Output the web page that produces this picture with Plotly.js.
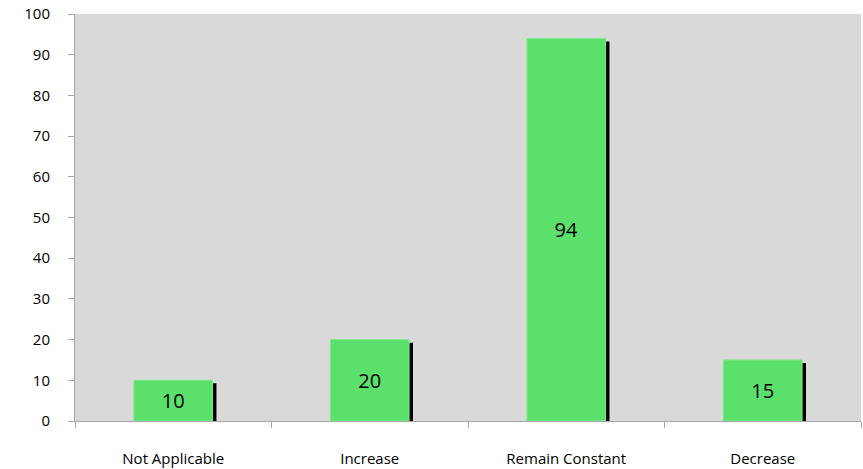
<!DOCTYPE html>
<html>
<head>
<meta charset="utf-8">
<script src="https://cdn.plot.ly/plotly-3.0.1.min.js"></script>
<style>html,body{margin:0;padding:0;background:#fff;}#chart{width:863px;height:469px;}</style>
</head>
<body>
<div id="chart"></div>
<script>
var categories = ["Not Applicable", "Increase", "Remain Constant", "Decrease"];
var values = [10, 20, 94, 15];
var yTicks = [0, 10, 20, 30, 40, 50, 60, 70, 80, 90, 100];

var font = "Open Sans, Liberation Sans, sans-serif";
var barW = 0.4;
var shadowDx = 0.02;   // category units
var shadowDy = 0.75;   // value units

var shadow = {
  type: "bar",
  x: categories,
  y: values.map(function (v) { return v - shadowDy; }),
  width: barW,
  offset: -barW / 2 + shadowDx,
  marker: { color: "#000000", line: { width: 0 } },
  hoverinfo: "skip",
  showlegend: false
};
var bars = {
  type: "bar",
  x: categories,
  y: values,
  width: barW,
  offset: -barW / 2,
  marker: { color: "#5ce06c", line: { width: 1, color: "#7fe88c" } },
  text: values.map(String),
  textposition: "inside",
  insidetextanchor: "middle",
  textangle: 0,
  constraintext: "none",
  textfont: { family: font, size: 20, color: "#000000" },
  showlegend: false
};

var layout = {
  width: 863,
  height: 469,
  margin: { l: 75, r: 2, t: 14, b: 48, pad: 0 },
  paper_bgcolor: "#ffffff",
  plot_bgcolor: "#d9d9d9",
  barmode: "overlay",
  showlegend: false,
  xaxis: {
    type: "category",
    tickson: "boundaries",
    ticks: "outside",
    ticklen: 6,
    tickcolor: "#a6a6a6",
    showline: true,
    linecolor: "#a6a6a6",
    linewidth: 1,
    showgrid: false,
    ticklabelstandoff: 24,
    tickfont: { family: font, size: 15, color: "#000000" },
    range: [-0.5, 3.5]
  },
  yaxis: {
    range: [0, 100],
    tickvals: yTicks,
    ticktext: yTicks.map(String),
    ticks: "outside",
    ticklen: 6,
    tickcolor: "#a6a6a6",
    showline: true,
    linecolor: "#a6a6a6",
    linewidth: 1,
    showgrid: false,
    zeroline: false,
    ticklabelstandoff: 15,
    tickfont: { family: font, size: 15, color: "#000000" }
  }
};

Plotly.newPlot("chart", [shadow, bars], layout, { displayModeBar: false, staticPlot: true });
</script>
</body>
</html>
